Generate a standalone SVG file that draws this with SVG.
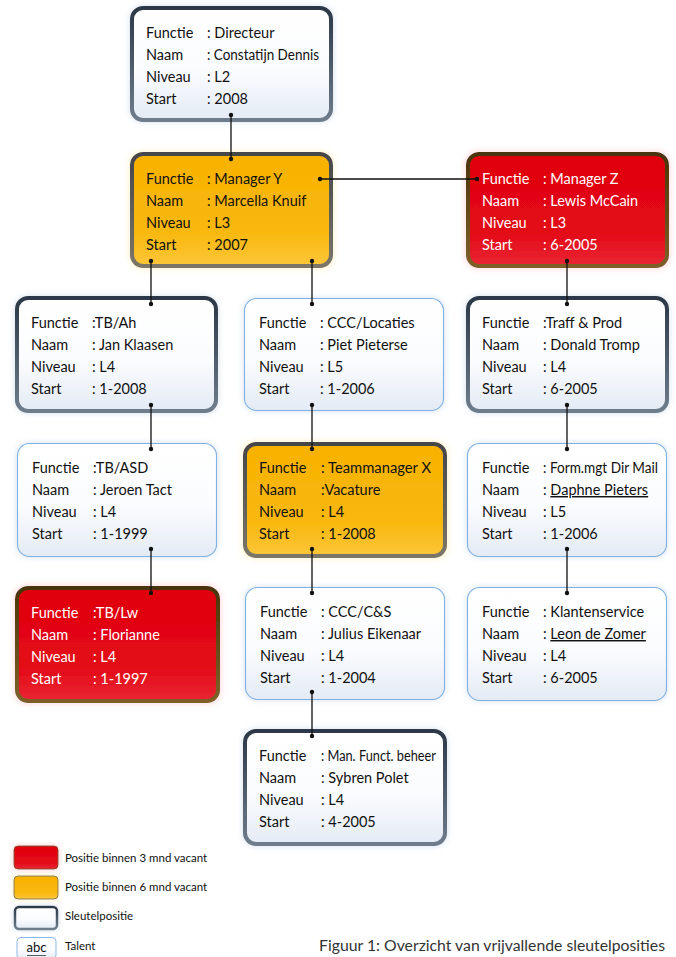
<svg xmlns="http://www.w3.org/2000/svg" width="676" height="957" viewBox="0 0 676 957">
<defs>
<style>
.t{font-family:Lato,"Open Sans","Liberation Sans",sans-serif;font-size:14.5px;fill:#111}
.w{fill:#fff}
.lg{font-family:Lato,"Open Sans","Liberation Sans",sans-serif;font-size:11.5px;fill:#111}
.cap{font-family:Lato,"Open Sans","Liberation Sans",sans-serif;font-size:15.5px;fill:#333}
.key{fill:url(#fKey);stroke:url(#sKey);stroke-width:4;filter:url(#gBlue)}
.org{fill:url(#fOrg);stroke:url(#sOrg);stroke-width:4;filter:url(#gOrg)}
.red{fill:url(#fRed);stroke:url(#sRed);stroke-width:4;filter:url(#gRed)}
.tal{fill:url(#fKey);stroke:#7fb2e4;stroke-width:1.1;filter:url(#gBlue)}
.ln{stroke:#111;stroke-width:1.3;fill:none}
.dot{fill:#111}
.u{text-decoration:underline}
</style>
<linearGradient id="fKey" x1="0" y1="0" x2="0" y2="1"><stop offset="0" stop-color="#ffffff"/><stop offset="0.55" stop-color="#fbfcfe"/><stop offset="1" stop-color="#e4ebf5"/></linearGradient>
<linearGradient id="sKey" x1="0" y1="0" x2="0" y2="1"><stop offset="0" stop-color="#2c3848"/><stop offset="1" stop-color="#6e7c8c"/></linearGradient>
<linearGradient id="fOrg" x1="0" y1="0" x2="0" y2="1"><stop offset="0" stop-color="#f7b200"/><stop offset="0.7" stop-color="#f9b80e"/><stop offset="1" stop-color="#fcc63a"/></linearGradient>
<linearGradient id="sOrg" x1="0" y1="0" x2="0" y2="1"><stop offset="0" stop-color="#45464a"/><stop offset="1" stop-color="#7b7668"/></linearGradient>
<linearGradient id="fRed" x1="0" y1="0" x2="0" y2="1"><stop offset="0" stop-color="#e0000c"/><stop offset="0.7" stop-color="#e30a18"/><stop offset="1" stop-color="#e92632"/></linearGradient>
<linearGradient id="sRed" x1="0" y1="0" x2="0" y2="1"><stop offset="0" stop-color="#4a3408"/><stop offset="1" stop-color="#7e6028"/></linearGradient>
<filter id="gBlue" x="-10%" y="-15%" width="120%" height="130%"><feGaussianBlur in="SourceAlpha" stdDeviation="3"/><feFlood flood-color="#b8cbe2" flood-opacity="0.6"/><feComposite operator="in" in2="SourceAlpha"/><feGaussianBlur stdDeviation="3"/><feMerge><feMergeNode/><feMergeNode in="SourceGraphic"/></feMerge></filter>
<filter id="gOrg" x="-10%" y="-15%" width="120%" height="130%"><feMorphology in="SourceAlpha" operator="dilate" radius="1"/><feGaussianBlur stdDeviation="3"/><feComponentTransfer><feFuncA type="linear" slope="0.7"/></feComponentTransfer><feComponentTransfer><feFuncR type="table" tableValues="1 1"/><feFuncG type="table" tableValues="0.85 0.85"/><feFuncB type="table" tableValues="0.5 0.5"/></feComponentTransfer><feMerge><feMergeNode/><feMergeNode in="SourceGraphic"/></feMerge></filter>
<filter id="gRed" x="-10%" y="-15%" width="120%" height="130%"><feMorphology in="SourceAlpha" operator="dilate" radius="1"/><feGaussianBlur stdDeviation="3"/><feComponentTransfer><feFuncA type="linear" slope="0.7"/></feComponentTransfer><feComponentTransfer><feFuncR type="table" tableValues="1 1"/><feFuncG type="table" tableValues="0.6 0.6"/><feFuncB type="table" tableValues="0.62 0.62"/></feComponentTransfer><feMerge><feMergeNode/><feMergeNode in="SourceGraphic"/></feMerge></filter>
</defs>
<rect width="676" height="957" fill="#ffffff"/>

<g id="n-directeur" transform="translate(130,6)">
<rect class="key" x="2" y="2" width="199" height="112" rx="11"/>
<text class="t" x="16" y="32">Functie</text><text class="t" x="77" y="32">: Directeur</text>
<text class="t" x="16" y="54">Naam</text><text class="t" x="77" y="54" textLength="112" lengthAdjust="spacingAndGlyphs">: Constatijn Dennis</text>
<text class="t" x="16" y="76">Niveau</text><text class="t" x="77" y="76">: L2</text>
<text class="t" x="16" y="98">Start</text><text class="t" x="77" y="98">: 2008</text>
</g>

<g id="n-managery" transform="translate(130,152)">
<rect class="org" x="2" y="2" width="199" height="112" rx="11"/>
<text class="t" x="16" y="32">Functie</text><text class="t" x="77" y="32">: Manager Y</text>
<text class="t" x="16" y="54">Naam</text><text class="t" x="77" y="54">: Marcella Knuif</text>
<text class="t" x="16" y="76">Niveau</text><text class="t" x="77" y="76">: L3</text>
<text class="t" x="16" y="98">Start</text><text class="t" x="77" y="98">: 2007</text>
</g>

<g id="n-managerz" transform="translate(466,152)">
<rect class="red" x="2" y="2" width="199" height="112" rx="11"/>
<text class="t w" x="16" y="32">Functie</text><text class="t w" x="77" y="32">: Manager Z</text>
<text class="t w" x="16" y="54">Naam</text><text class="t w" x="77" y="54">: Lewis McCain</text>
<text class="t w" x="16" y="76">Niveau</text><text class="t w" x="77" y="76">: L3</text>
<text class="t w" x="16" y="98">Start</text><text class="t w" x="77" y="98">: 6-2005</text>
</g>

<g id="n-tbah" transform="translate(15,296)">
<rect class="key" x="2" y="2" width="199" height="113" rx="11"/>
<text class="t" x="16" y="32">Functie</text><text class="t" x="77" y="32">:TB/Ah</text>
<text class="t" x="16" y="54">Naam</text><text class="t" x="77" y="54">: Jan Klaasen</text>
<text class="t" x="16" y="76">Niveau</text><text class="t" x="77" y="76">: L4</text>
<text class="t" x="16" y="98">Start</text><text class="t" x="77" y="98">: 1-2008</text>
</g>

<g id="n-ccclocaties" transform="translate(244,298)">
<rect class="tal" x="0.5" y="0.5" width="199" height="112" rx="12"/>
<text class="t" x="15" y="30">Functie</text><text class="t" x="76" y="30">: CCC/Locaties</text>
<text class="t" x="15" y="52">Naam</text><text class="t" x="76" y="52">: Piet Pieterse</text>
<text class="t" x="15" y="74">Niveau</text><text class="t" x="76" y="74">: L5</text>
<text class="t" x="15" y="96">Start</text><text class="t" x="76" y="96">: 1-2006</text>
</g>

<g id="n-traff" transform="translate(466,296)">
<rect class="key" x="2" y="2" width="199" height="113" rx="11"/>
<text class="t" x="16" y="32">Functie</text><text class="t" x="77" y="32">:Traff &amp; Prod</text>
<text class="t" x="16" y="54">Naam</text><text class="t" x="77" y="54">: Donald Tromp</text>
<text class="t" x="16" y="76">Niveau</text><text class="t" x="77" y="76">: L4</text>
<text class="t" x="16" y="98">Start</text><text class="t" x="77" y="98">: 6-2005</text>
</g>

<g id="n-tbasd" transform="translate(17,443)">
<rect class="tal" x="0.5" y="0.5" width="199" height="113" rx="12"/>
<text class="t" x="15" y="30">Functie</text><text class="t" x="76" y="30">:TB/ASD</text>
<text class="t" x="15" y="52">Naam</text><text class="t" x="76" y="52">: Jeroen Tact</text>
<text class="t" x="15" y="74">Niveau</text><text class="t" x="76" y="74">: L4</text>
<text class="t" x="15" y="96">Start</text><text class="t" x="76" y="96">: 1-1999</text>
</g>

<g id="n-teammanagerx" transform="translate(243,442)">
<rect class="org" x="2" y="2" width="200" height="112" rx="11"/>
<text class="t" x="16" y="31">Functie</text><text class="t" x="78" y="31" textLength="110" lengthAdjust="spacingAndGlyphs">: Teammanager X</text>
<text class="t" x="16" y="53">Naam</text><text class="t" x="78" y="53">:Vacature</text>
<text class="t" x="16" y="75">Niveau</text><text class="t" x="78" y="75">: L4</text>
<text class="t" x="16" y="97">Start</text><text class="t" x="78" y="97">: 1-2008</text>
</g>

<g id="n-formmgt" transform="translate(467,443)">
<rect class="tal" x="0.5" y="0.5" width="199" height="113" rx="12"/>
<text class="t" x="15" y="30">Functie</text><text class="t" x="76" y="30" textLength="115" lengthAdjust="spacingAndGlyphs">: Form.mgt Dir Mail</text>
<text class="t" x="15" y="52">Naam</text><text class="t" x="76" y="52">: <tspan class="u">Daphne Pieters</tspan></text>
<text class="t" x="15" y="74">Niveau</text><text class="t" x="76" y="74">: L5</text>
<text class="t" x="15" y="96">Start</text><text class="t" x="76" y="96">: 1-2006</text>
</g>

<g id="n-tblw" transform="translate(15,586)">
<rect class="red" x="2" y="2" width="201" height="113" rx="11"/>
<text class="t w" x="16" y="32">Functie</text><text class="t w" x="78" y="32">:TB/Lw</text>
<text class="t w" x="16" y="54">Naam</text><text class="t w" x="78" y="54">: Florianne</text>
<text class="t w" x="16" y="76">Niveau</text><text class="t w" x="78" y="76">: L4</text>
<text class="t w" x="16" y="98">Start</text><text class="t w" x="78" y="98">: 1-1997</text>
</g>

<g id="n-ccccs" transform="translate(245,587)">
<rect class="tal" x="0.5" y="0.5" width="199" height="112" rx="12"/>
<text class="t" x="15" y="30">Functie</text><text class="t" x="76" y="30">: CCC/C&amp;S</text>
<text class="t" x="15" y="52">Naam</text><text class="t" x="76" y="52">: Julius Eikenaar</text>
<text class="t" x="15" y="74">Niveau</text><text class="t" x="76" y="74">: L4</text>
<text class="t" x="15" y="96">Start</text><text class="t" x="76" y="96">: 1-2004</text>
</g>

<g id="n-klantenservice" transform="translate(467,587)">
<rect class="tal" x="0.5" y="0.5" width="199" height="113" rx="12"/>
<text class="t" x="15" y="30">Functie</text><text class="t" x="76" y="30">: Klantenservice</text>
<text class="t" x="15" y="52">Naam</text><text class="t" x="76" y="52">: <tspan class="u">Leon de Zomer</tspan></text>
<text class="t" x="15" y="74">Niveau</text><text class="t" x="76" y="74">: L4</text>
<text class="t" x="15" y="96">Start</text><text class="t" x="76" y="96">: 6-2005</text>
</g>

<g id="n-manfunct" transform="translate(243,729)">
<rect class="key" x="2" y="2" width="200" height="113" rx="11"/>
<text class="t" x="16" y="32">Functie</text><text class="t" x="78" y="32" textLength="115" lengthAdjust="spacingAndGlyphs">: Man. Funct. beheer</text>
<text class="t" x="16" y="54">Naam</text><text class="t" x="78" y="54">: Sybren Polet</text>
<text class="t" x="16" y="76">Niveau</text><text class="t" x="78" y="76">: L4</text>
<text class="t" x="16" y="98">Start</text><text class="t" x="78" y="98">: 4-2005</text>
</g>

<g id="connectors">
<path class="ln" d="M231 115V159M320 179H477M151 261V304M312 261V304M567 261V304M151 405V449M312 405V449M567 405V449M151 549V593M312 549V593M567 549V593M312 692V736"/>
<g class="dot">
<circle cx="231" cy="115" r="2.2"/><circle cx="231" cy="159" r="2.2"/>
<circle cx="320" cy="179" r="2.2"/><circle cx="477" cy="179" r="2.2"/>
<circle cx="151" cy="261" r="2.2"/><circle cx="151" cy="304" r="2.2"/>
<circle cx="312" cy="261" r="2.2"/><circle cx="312" cy="304" r="2.2"/>
<circle cx="567" cy="261" r="2.2"/><circle cx="567" cy="304" r="2.2"/>
<circle cx="151" cy="405" r="2.2"/><circle cx="151" cy="449" r="2.2"/>
<circle cx="312" cy="405" r="2.2"/><circle cx="312" cy="449" r="2.2"/>
<circle cx="567" cy="405" r="2.2"/><circle cx="567" cy="449" r="2.2"/>
<circle cx="151" cy="549" r="2.2"/><circle cx="151" cy="593" r="2.2"/>
<circle cx="312" cy="549" r="2.2"/><circle cx="312" cy="593" r="2.2"/>
<circle cx="567" cy="549" r="2.2"/><circle cx="567" cy="593" r="2.2"/>
<circle cx="312" cy="692" r="2.2"/><circle cx="312" cy="736" r="2.2"/>
</g>
</g>

<g id="legend">
<rect x="14" y="846" width="44" height="23" rx="4" fill="url(#fRed)" stroke="#8a4a20" stroke-width="1" filter="url(#gRed)"/>
<text class="lg" x="65" y="862">Positie binnen 3 mnd vacant</text>
<rect x="14" y="876" width="44" height="23" rx="4" fill="url(#fOrg)" stroke="#8a7d55" stroke-width="1" filter="url(#gOrg)"/>
<text class="lg" x="65" y="891">Positie binnen 6 mnd vacant</text>
<rect x="15" y="907" width="42" height="22" rx="4" fill="url(#fKey)" stroke="url(#sKey)" stroke-width="2.5" filter="url(#gBlue)"/>
<text class="lg" x="65" y="920">Sleutelpositie</text>
<rect x="17" y="937.5" width="39" height="22" rx="4" fill="url(#fKey)" stroke="#8ab8e6" stroke-width="1"/>
<text class="lg" x="36.5" y="952" text-anchor="middle" style="font-size:13px">abc</text>
<line x1="27" y1="955.5" x2="46" y2="955.5" stroke="#333" stroke-width="0.8"/>
<text class="lg" x="65" y="950">Talent</text>
</g>

<text class="cap" x="319" y="951" textLength="346" lengthAdjust="spacingAndGlyphs">Figuur 1: Overzicht van vrijvallende sleutelposities</text>
</svg>
